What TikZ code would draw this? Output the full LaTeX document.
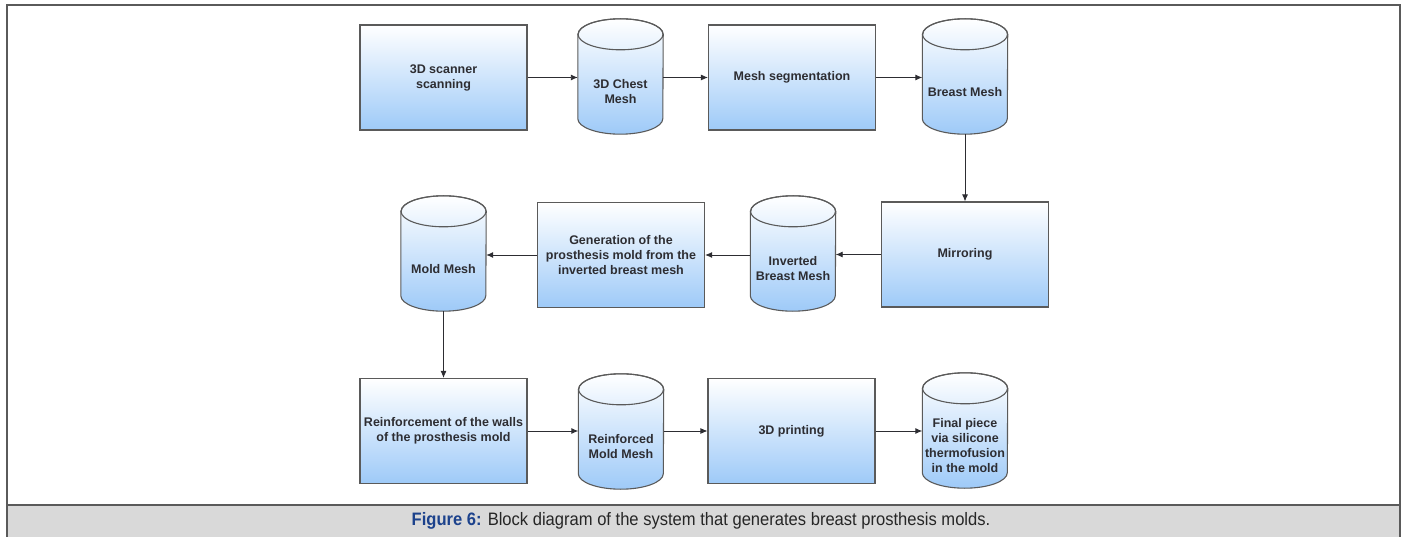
\documentclass[tikz,border=0pt]{standalone}
\usepackage{fontspec}
\setmainfont{Liberation Sans}
\newfontfamily\capfont[FakeStretch=0.92]{Liberation Sans}
\usetikzlibrary{arrows.meta,backgrounds}
\definecolor{boxblue}{RGB}{158,202,248}
\definecolor{edgegray}{RGB}{90,90,90}
\definecolor{textgray}{RGB}{45,45,50}
\definecolor{bandgray}{RGB}{217,217,217}
\definecolor{capblue}{RGB}{28,66,140}
\begin{document}
\begin{tikzpicture}[
    x=1pt, y=1pt,
    every node/.style={font=\bfseries\fontsize{12.5}{15}\selectfont, text=textgray, align=center, inner sep=0},
    stepbox/.style={rectangle, draw=edgegray, line width=1.1pt, top color=white, bottom color=boxblue, minimum width=167pt, minimum height=105pt},
    meshcyl/.style={rectangle, minimum width=85pt, minimum height=84pt},
    flow/.style={-{Latex[length=7pt,width=6pt]}, line width=0.9pt, draw=textgray}
  ]
  \useasboundingbox (0,0) rectangle (1402,-537);
  % frame and caption band
  \fill[bandgray] (7,-505) rectangle (1400,-537);
  \draw[edgegray, line width=1.5pt] (7,-537) -- (7,-5) -- (1400,-5) -- (1400,-537);
  \draw[edgegray, line width=1.5pt] (7,-505) -- (1400,-505);
  \node[font=\capfont\fontsize{18}{20}\selectfont, text=black!85] (caption) at (701,-521)
    {\textcolor{capblue}{\bfseries Figure 6:} Block diagram of the system that generates breast prosthesis molds.};

  % first row
  \node[stepbox] (scanner) at (443.5,-77.5) {3D scanner\\scanning};
  \node[meshcyl] (chest) at (620.5,-92) {3D Chest\\Mesh};
  \node[stepbox] (segment) at (792,-77.5) {Mesh segmentation};
  \node[meshcyl] (breast) at (965,-92) {Breast Mesh};

  % second row
  \node[stepbox] (mirror) at (965,-254.5) {Mirroring};
  \node[meshcyl] (inverted) at (793,-269) {Inverted\\Breast Mesh};
  \node[stepbox] (generation) at (621,-255) {Generation of the\\prosthesis mold from the\\inverted breast mesh};
  \node[meshcyl] (moldmesh) at (443.5,-269) {Mold Mesh};

  % third row
  \node[stepbox] (reinforce) at (443.5,-431) {Reinforcement of the walls\\of the prosthesis mold};
  \node[meshcyl] (reinforced) at (621,-447) {Reinforced\\Mold Mesh};
  \node[stepbox] (printing) at (791.5,-431) {3D printing};
  \node[meshcyl] (final) at (965,-446) {Final piece\\via silicone\\thermofusion\\in the mold};

  % cylinder bodies
  \begin{scope}[on background layer]
    \foreach \c in {chest,breast,inverted,moldmesh,reinforced,final} {
      \shade[draw=edgegray, line width=1.1pt, top color=white, bottom color=boxblue]
        ([yshift=15.5pt]\c.north west) -- ([yshift=15.5pt]\c.south west)
        arc[start angle=180, end angle=360, x radius=42.5pt, y radius=15.5pt]
        -- ([yshift=15.5pt]\c.north east)
        arc[start angle=0, end angle=180, x radius=42.5pt, y radius=15.5pt] -- cycle;
      \draw[edgegray, line width=1.1pt] ([yshift=15.5pt]\c.north) ellipse[x radius=42.5pt, y radius=15.5pt];
    }
  \end{scope}

  % connectors
  \draw[flow] (scanner.east) -- (scanner.east -| chest.west);
  \draw[flow] (segment.west -| chest.east) -- (segment.west);
  \draw[flow] (segment.east) -- (segment.east -| breast.west);
  \draw[flow] (breast.south) -- (mirror.north);
  \draw[flow] (mirror.west) -- (mirror.west -| inverted.east);
  \draw[flow] (generation.east -| inverted.west) -- (generation.east);
  \draw[flow] (generation.west) -- (generation.west -| moldmesh.east);
  \draw[flow] (moldmesh.south) -- (reinforce.north);
  \draw[flow] (reinforce.east) -- (reinforce.east -| reinforced.west);
  \draw[flow] (printing.west -| reinforced.east) -- (printing.west);
  \draw[flow] (printing.east) -- (printing.east -| final.west);
\end{tikzpicture}
\end{document}
